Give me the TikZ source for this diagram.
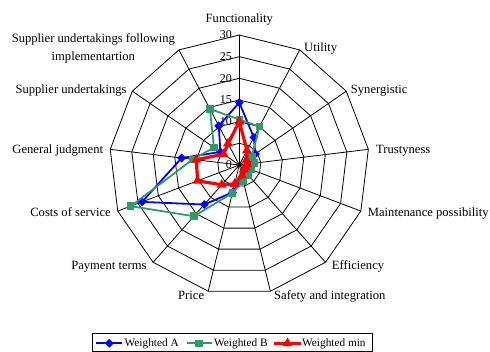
\documentclass[tikz,border=0pt]{standalone}
\usepackage{fontspec}
\setmainfont{Liberation Serif}
\usetikzlibrary{shapes.geometric}
\definecolor{serA}{RGB}{0,0,255}
\definecolor{serB}{RGB}{51,153,102}
\definecolor{serM}{RGB}{255,0,0}
\tikzset{
  gridline/.style={black, line width=0.8pt},
  lbl/.style={inner sep=0pt, font=\fontsize{12.6}{15}\selectfont},
  ticklbl/.style={inner sep=0pt, anchor=east, font=\fontsize{12}{14}\selectfont},
  leglbl/.style={inner sep=0pt, anchor=west, font=\fontsize{11.3}{13}\selectfont},
  lineA/.style={serA, line width=1.8pt, line join=round},
  lineB/.style={serB, line width=1.8pt, line join=round},
  lineM/.style={serM, line width=3.2pt, line join=round},
  markA/.style={diamond, fill=serA, inner sep=0pt, minimum width=9pt, minimum height=9pt},
  markB/.style={rectangle, fill=serB, inner sep=0pt, minimum width=7.5pt, minimum height=7.5pt},
  markM/.style={regular polygon, regular polygon sides=3, fill=serM, inner sep=0pt, minimum size=11.5pt}
}
\begin{document}
\begin{tikzpicture}[x=1pt,y=-1pt]
\useasboundingbox (0,0) rectangle (490,352);
\def\cx{239.3}
\def\cy{165}
\def\u{4.333}
\coordinate (O) at (\cx,\cy);
\foreach \k in {0,...,12}{
  \coordinate (V\k) at ({\cx+30*\u*sin(\k*360/13)},{\cy-30*\u*cos(\k*360/13)});
}
\foreach \r in {5,10,...,30}{
  \draw[gridline] ({\cx},{\cy-\r*\u})
    \foreach \k in {1,...,12}{ -- ({\cx+\r*\u*sin(\k*360/13)},{\cy-\r*\u*cos(\k*360/13)}) } -- cycle;
}
\foreach \k in {0,...,12}{ \draw[gridline] (O) -- (V\k); }
\foreach \r in {0,5,...,30}{
  \node[ticklbl] (t\r) at (232,{\cy-\r*\u}) {\r};
}
\node[lbl, anchor=mid] (L0) at (239.3,19.9) {Functionality};
\node[lbl, anchor=mid west] (L1) at (304,49.6) {Utility};
\node[lbl, anchor=mid west] (L2) at (350.7,90.9) {Synergistic};
\node[lbl, anchor=mid west] (L3) at (376,151.6) {Trustyness};
\node[lbl, anchor=mid west] (L4) at (367.7,214.3) {Maintenance possibility};
\node[lbl, anchor=mid west] (L5) at (331.7,267.6) {Efficiency};
\node[lbl, anchor=mid west] (L6) at (274,297.6) {Safety and integration};
\node[lbl, anchor=mid east] (L7) at (204.3,297.6) {Price};
\node[lbl, anchor=mid east] (L8) at (146.7,267.6) {Payment terms};
\node[lbl, anchor=mid east] (L9) at (111,214.3) {Costs of service};
\node[lbl, anchor=mid east] (L10) at (103.3,151.6) {General judgment};
\node[lbl, anchor=mid east] (L11) at (126.7,90.9) {Supplier undertakings};
\node[lbl, align=center, font=\fontsize{12.6}{17.7}\selectfont] (L12) at (93.3,48.6) {Supplier undertakings following\\implementartion};
\foreach \v [count=\i from 0] in {14.4,7.2,4.5,3,2.5,2,3,6.5,12.2,24,13.4,5.3,10.2}{
  \coordinate (A\i) at ({\cx+\v*\u*sin(\i*360/13)},{\cy-\v*\u*cos(\i*360/13)});
}
\foreach \v [count=\i from 0] in {10.5,10,3.5,3.5,3,3.2,3.8,6.7,15.8,26.8,10.8,7.1,14.6}{
  \coordinate (B\i) at ({\cx+\v*\u*sin(\i*360/13)},{\cy-\v*\u*cos(\i*360/13)});
}
\foreach \v [count=\i from 0] in {10,3.8,2,1.8,1.5,1.5,2.5,4.5,6.1,10.3,10,4.4,5.6}{
  \coordinate (M\i) at ({\cx+\v*\u*sin(\i*360/13)},{\cy-\v*\u*cos(\i*360/13)});
}
\draw[lineA] (A0) -- (A1) -- (A2) -- (A3) -- (A4) -- (A5) -- (A6) -- (A7) -- (A8) -- (A9) -- (A10) -- (A11) -- (A12) -- cycle;
\foreach \i in {0,...,12}{ \node[markA] (mA\i) at (A\i) {}; }
\draw[lineB] (B0) -- (B1) -- (B2) -- (B3) -- (B4) -- (B5) -- (B6) -- (B7) -- (B8) -- (B9) -- (B10) -- (B11) -- (B12) -- cycle;
\foreach \i in {0,...,12}{ \node[markB] (mB\i) at (B\i) {}; }
\draw[lineM] (M0) -- (M1) -- (M2) -- (M3) -- (M4) -- (M5) -- (M6) -- (M7) -- (M8) -- (M9) -- (M10) -- (M11) -- (M12) -- cycle;
\foreach \i in {0,...,12}{ \node[markM] (mM\i) at (M\i) {}; }
\node[draw=black, line width=0.8pt, minimum width=280pt, minimum height=18.5pt, inner sep=0pt] (legend) at (232.7,342.4) {};
\coordinate (la1) at (96,343.3);
\coordinate (la2) at (121.7,343.3);
\coordinate (lb1) at (186.7,343.3);
\coordinate (lb2) at (211.7,343.3);
\coordinate (lm1) at (274.3,343.3);
\coordinate (lm2) at (300.7,343.3);
\draw[lineA] (la1) -- (la2);
\node[markA] (lgA) at (109.3,343.3) {};
\node[leglbl] (ltA) at (124.5,343.3) {Weighted A};
\draw[lineB] (lb1) -- (lb2);
\node[markB] (lgB) at (199.2,343.3) {};
\node[leglbl] (ltB) at (214,343.3) {Weighted B};
\draw[lineM] (lm1) -- (lm2);
\node[markM] (lgM) at (287.5,343.3) {};
\node[leglbl] (ltM) at (302,343.3) {Weighted min};
\end{tikzpicture}
\end{document}
